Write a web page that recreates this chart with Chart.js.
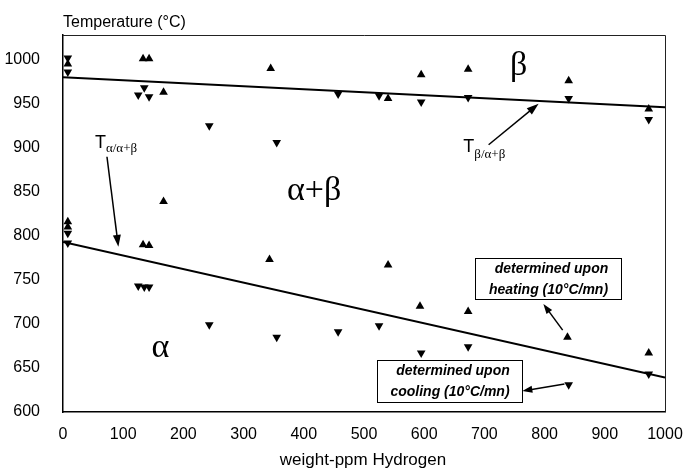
<!DOCTYPE html>
<html>
<head>
<meta charset="utf-8">
<script src="https://cdn.jsdelivr.net/npm/chart.js@4/dist/chart.umd.min.js"></script>
<style>
  html, body { margin: 0; padding: 0; background: #fff; }
  #wrap { width: 683px; height: 471px; position: relative; }
</style>
</head>
<body>
<div id="wrap"><canvas id="c" width="683" height="471"></canvas></div>
<script>
// Hydrogen content (weight-ppm) and transus temperatures (°C)
const heatingPpm  = [8, 8, 8, 133, 143, 167, 345, 540, 595, 673, 840, 973,
                     133, 143, 167, 343, 540, 593, 673, 838, 973];
const heatingTemp = [995, 816, 810, 1001, 1001, 963, 990, 956, 983, 989, 976, 944,
                     790, 789, 839, 773, 767, 720, 714, 685, 667];

const coolingPpm  = [8, 8, 125, 135, 143, 243, 355, 457, 525, 595, 673, 840, 973,
                     8, 8, 125, 135, 143, 243, 355, 457, 525, 595, 673, 840, 973];
const coolingTemp = [1002, 986, 960, 968, 958, 925, 906, 961, 959, 952, 957, 956, 932,
                     803, 792, 743, 742, 742, 699, 685, 691, 698, 667, 674, 631, 643];

// Fitted transus lines: T(beta / alpha+beta) and T(alpha / alpha+beta)
const betaLinePpm   = [0, 1000];
const betaLineTemp  = [980, 946];
const alphaLinePpm  = [0, 1000];
const alphaLineTemp = [793, 639];

const xTicks = [0, 100, 200, 300, 400, 500, 600, 700, 800, 900, 1000];
const yTicks = [600, 650, 700, 750, 800, 850, 900, 950, 1000];

const pts = (xs, ys) => xs.map((x, i) => ({ x: x, y: ys[i] }));

const SANS = "Arial, 'Liberation Sans', Helvetica, sans-serif";
const SERIF = "'Times New Roman', 'Liberation Serif', Times, serif";

function arrow(ctx, x1, y1, x2, y2, head, half) {
  const a = Math.atan2(y2 - y1, x2 - x1);
  ctx.beginPath();
  ctx.moveTo(x1, y1);
  ctx.lineTo(x2 - Math.cos(a) * head * 0.8, y2 - Math.sin(a) * head * 0.8);
  ctx.stroke();
  ctx.beginPath();
  ctx.moveTo(x2, y2);
  ctx.lineTo(x2 - Math.cos(a) * head + Math.sin(a) * half, y2 - Math.sin(a) * head - Math.cos(a) * half);
  ctx.lineTo(x2 - Math.cos(a) * head - Math.sin(a) * half, y2 - Math.sin(a) * head + Math.cos(a) * half);
  ctx.closePath();
  ctx.fill();
}

const annotations = {
  id: 'annotations',
  afterDraw(chart) {
    const ctx = chart.ctx;
    const xs = chart.scales.x, ys = chart.scales.y;
    const X = v => xs.getPixelForValue(v);
    const Y = v => ys.getPixelForValue(v);
    const area = chart.chartArea;
    ctx.save();

    // frame: top and right edges
    ctx.strokeStyle = '#222';
    ctx.lineWidth = 1;
    ctx.beginPath();
    ctx.moveTo(area.left, area.top + 0.5);
    ctx.lineTo(area.right + 0.5, area.top + 0.5);
    ctx.lineTo(area.right + 0.5, area.bottom);
    ctx.stroke();

    ctx.fillStyle = '#000';
    ctx.strokeStyle = '#000';

    // axis titles
    ctx.font = '16px ' + SANS;
    ctx.textAlign = 'left';
    ctx.textBaseline = 'alphabetic';
    ctx.fillText('Temperature (°C)', area.left, 27);
    ctx.font = '17px ' + SANS;
    ctx.textAlign = 'center';
    ctx.fillText('weight-ppm Hydrogen', 363, 465);

    // phase fields
    ctx.font = '34px ' + SERIF;
    ctx.textAlign = 'center';
    ctx.fillText('β', X(757), Y(983));
    ctx.fillText('α+β', X(417), Y(841));
    ctx.fillText('α', X(162), Y(662.5));

    // transus labels
    ctx.textAlign = 'left';
    let x0 = X(53), y0 = Y(900);
    ctx.font = '18px ' + SANS;
    ctx.fillText('T', x0, y0);
    let w = ctx.measureText('T').width;
    ctx.font = '13px ' + SERIF;
    ctx.fillText('α/α+β', x0 + w, y0 + 4);

    x0 = X(665); y0 = Y(895.5);
    ctx.font = '18px ' + SANS;
    ctx.fillText('T', x0, y0);
    w = ctx.measureText('T').width;
    ctx.font = '13px ' + SERIF;
    ctx.fillText('β/α+β', x0 + w, y0 + 6);

    // arrows
    ctx.lineWidth = 1.5;
    arrow(ctx, X(73), Y(889.8), X(92), Y(787.5), 12, 4);
    arrow(ctx, X(707), Y(903.4), X(790), Y(950), 12, 4);
    arrow(ctx, X(830), Y(693), X(798), Y(722.7), 10, 3.5);
    arrow(ctx, X(833), Y(631.8), X(763), Y(623.9), 10, 3.5);

    // legend boxes
    function box(x1, t1, x2, t2, lines) {
      const l = Math.round(X(x1)) + 0.5, t = Math.round(Y(t1)) + 0.5;
      const r = Math.round(X(x2)) + 0.5, b = Math.round(Y(t2)) + 0.5;
      ctx.fillStyle = '#fff';
      ctx.fillRect(l, t, r - l, b - t);
      ctx.lineWidth = 1;
      ctx.strokeStyle = '#000';
      ctx.strokeRect(l, t, r - l, b - t);
      ctx.fillStyle = '#000';
      ctx.font = 'italic bold 14px ' + SANS;
      ctx.textAlign = 'center';
      const cx = (l + r) / 2;
      ctx.fillText(lines[0], cx + 3, t + 14);
      ctx.fillText(lines[1], cx, t + 35);
    }
    box(685, 775, 927, 728.4, ['determined upon', 'heating (10°C/mn)']);
    box(522, 659, 763, 611.4, ['determined upon', 'cooling (10°C/mn)']);

    ctx.restore();
  }
};

new Chart(document.getElementById('c'), {
  type: 'scatter',
  data: {
    datasets: [
      {
        label: 'heating',
        data: pts(heatingPpm, heatingTemp),
        pointStyle: 'triangle',
        pointRadius: 5,
        pointRotation: 0,
        backgroundColor: '#000',
        borderColor: '#000',
        borderWidth: 0
      },
      {
        label: 'cooling',
        data: pts(coolingPpm, coolingTemp),
        pointStyle: 'triangle',
        pointRadius: 5,
        pointRotation: 180,
        backgroundColor: '#000',
        borderColor: '#000',
        borderWidth: 0
      },
      {
        type: 'line',
        label: 'T beta',
        data: pts(betaLinePpm, betaLineTemp),
        borderColor: '#000',
        borderWidth: 2,
        pointRadius: 0,
        fill: false
      },
      {
        type: 'line',
        label: 'T alpha',
        data: pts(alphaLinePpm, alphaLineTemp),
        borderColor: '#000',
        borderWidth: 2,
        pointRadius: 0,
        fill: false
      }
    ]
  },
  options: {
    responsive: false,
    animation: false,
    layout: { padding: { left: 0, top: 35, right: 18, bottom: 0 } },
    plugins: { legend: { display: false }, tooltip: { enabled: false } },
    scales: {
      x: {
        type: 'linear',
        min: 0,
        max: 1000,
        afterBuildTicks: s => { s.ticks = xTicks.map(v => ({ value: v })); },
        afterFit: s => { s.height = 59; s.paddingLeft = 0; s.paddingRight = 0; },
        grid: { display: false },
        border: { display: true, color: '#000', width: 1.5 },
        ticks: { color: '#000', padding: 5, font: { family: SANS, size: 16 }, maxRotation: 0,
                 callback: v => String(v) }
      },
      y: {
        type: 'linear',
        min: 600,
        max: 1028,
        afterBuildTicks: s => { s.ticks = yTicks.map(v => ({ value: v })); },
        afterFit: s => { s.width = 63; s.paddingTop = 0; s.paddingBottom = 0; },
        grid: { display: false },
        border: { display: true, color: '#000', width: 1.5 },
        ticks: { color: '#000', padding: 15, font: { family: SANS, size: 16 },
                 callback: v => String(v) }
      }
    }
  },
  plugins: [annotations]
});
</script>
</body>
</html>
